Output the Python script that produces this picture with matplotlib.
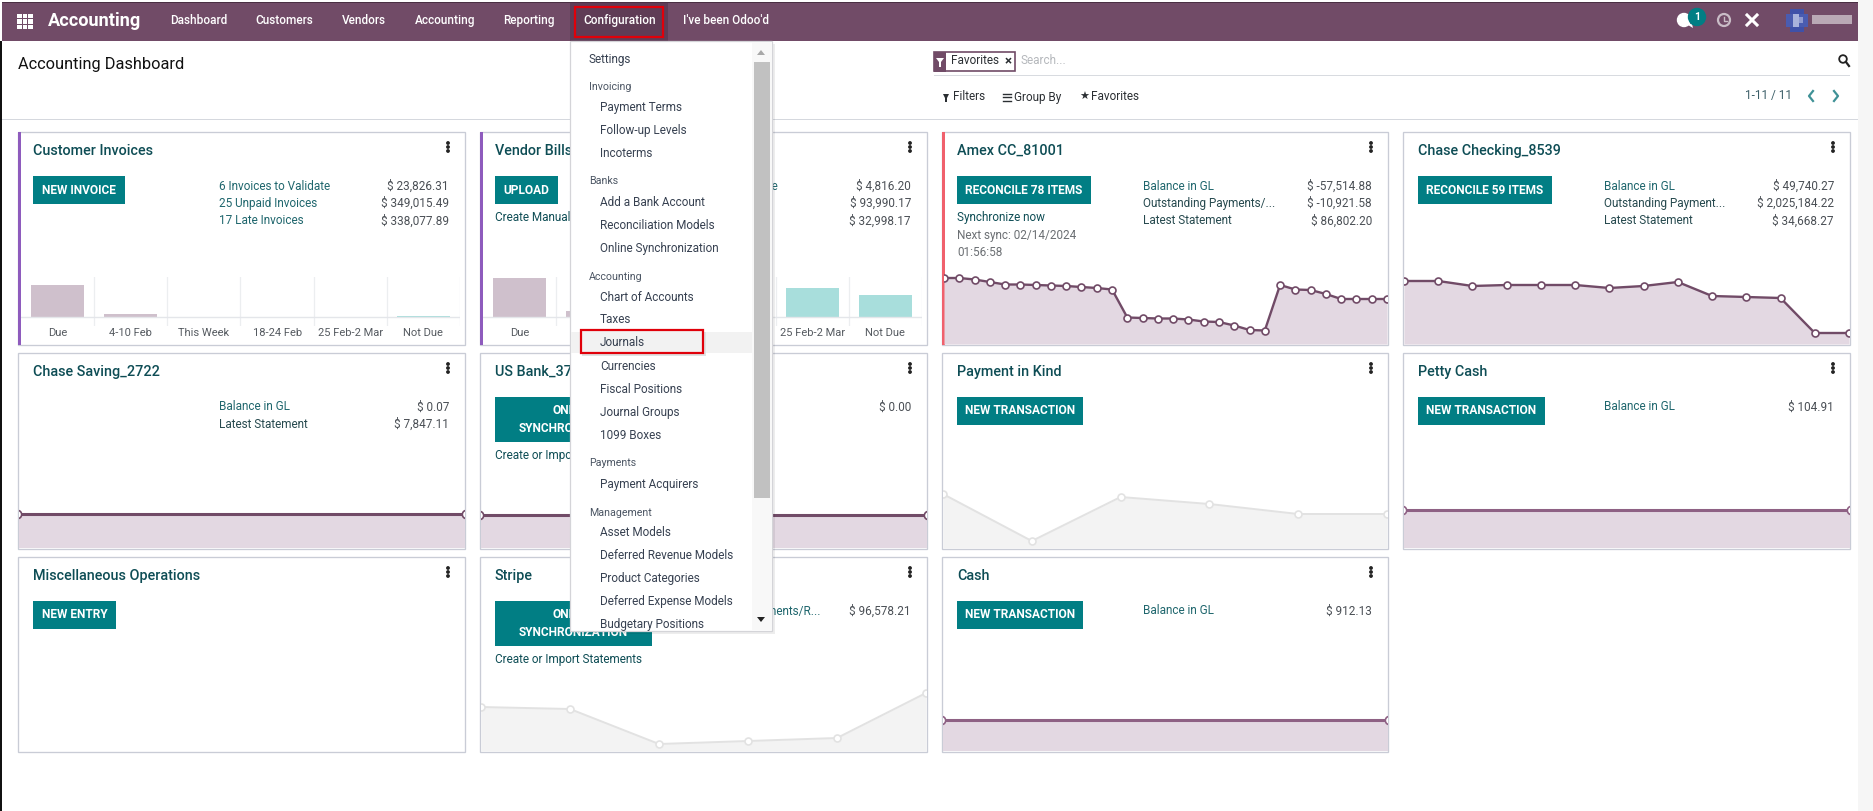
import matplotlib
matplotlib.use("Agg")
import matplotlib.pyplot as plt
from matplotlib.patches import Rectangle, Circle, Polygon

W, H = 1873, 811
plt.rcParams['font.family'] = ['Roboto', 'DejaVu Sans']

# colours
PURPLE = '#714b67'
TEAL = '#017e84'
TITLE = '#0e4d55'
LABEL1 = '#1f666d'
LABEL2 = '#26494e'
VALUE = '#4a4f55'
DARK = '#2b2f33'
BORDER = '#c9ccd6'
FILL = '#e3d8e2'
PAST = '#cfc0cc'
FUTURE = '#a8dedc'
GREY_LINE = '#e2e2e2'
GREY_FILL = '#f3f3f3'

# data
nav_items = ['Dashboard', 'Customers', 'Vendors', 'Accounting', 'Reporting', 'Configuration', "I've been Odoo'd"]
nav_x = [170, 255, 342, 415, 503, 583, 683]

bar_labels = ['Due', '4-10 Feb', 'This Week', '18-24 Feb', '25 Feb-2 Mar', 'Not Due']
customer_bars = [32, 3, 0, 0, 0, 1]
customer_future = [False, False, False, False, False, True]
vendor_bars = [39, 6, 0, 0, 29, 22]
vendor_future = [False, False, True, True, True, True]

amex_line = [66, 66, 64.5, 62, 59.5, 59.5, 59, 58.5, 58, 57, 56, 54.5, 26.5, 26, 25.5, 25.5, 24.5, 22.5,
             22, 18.5, 14, 13.5, 59, 54.5, 54, 50, 45, 45, 45, 45]
checking_line = [63, 63, 58, 59, 59, 59, 56, 58, 62, 48, 47, 46, 11, 11]
saving_line = [34, 34]
usbank_line = [33, 33]
petty_line = [38, 38]
cash_line = [31, 31]
kind_line = [54, 7, 51, 44, 34, 34]
stripe_line = [44, 42, 7, 10, 13, 58]

menu_items = [
    ('Settings', 0, 59), ('Invoicing', 0, 86), ('Payment Terms', 1, 107), ('Follow-up Levels', 1, 130),
    ('Incoterms', 1, 153), ('Banks', 0, 180), ('Add a Bank Account', 1, 202), ('Reconciliation Models', 1, 225),
    ('Online Synchronization', 1, 248), ('Accounting', 0, 276), ('Chart of Accounts', 1, 297), ('Taxes', 1, 319),
    ('Journals', 1, 342), ('Currencies', 1, 366), ('Fiscal Positions', 1, 389), ('Journal Groups', 1, 412),
    ('1099 Boxes', 1, 435), ('Payments', 0, 463), ('Payment Acquirers', 1, 484), ('Management', 0, 512),
    ('Asset Models', 1, 532), ('Deferred Revenue Models', 1, 555), ('Product Categories', 1, 578),
    ('Deferred Expense Models', 1, 601), ('Budgetary Positions', 1, 624),
]
menu_headers = ['Invoicing', 'Banks', 'Accounting', 'Payments', 'Management']

col_x = [(18, 465), (480, 927), (942, 1388), (1403, 1850)]
row_y = [(132, 345), (353, 549), (557, 752)]

# title, col, row, button text, button right edge, stats
cards = [
    ('Customer Invoices', 0, 0, 'NEW INVOICE', 125, [('6 Invoices to Validate', '$ 23,826.31', LABEL1), ('25 Unpaid Invoices', '$ 349,015.49', LABEL1), ('17 Late Invoices', '$ 338,077.89', LABEL1)]),
    ('Vendor Bills', 1, 0, 'UPLOAD', 558, [('', '$ 4,816.20', LABEL1), ('', '$ 93,990.17', LABEL1), ('', '$ 32,998.17', LABEL1)]),
    ('Amex CC_81001', 2, 0, 'RECONCILE 78 ITEMS', 1091, [('Balance in GL', '$ -57,514.88', LABEL1), ('Outstanding Payments/...', '$ -10,921.58', LABEL2), ('Latest Statement', '$ 86,802.20', LABEL2)]),
    ('Chase Checking_8539', 3, 0, 'RECONCILE 59 ITEMS', 1552, [('Balance in GL', '$ 49,740.27', LABEL1), ('Outstanding Payment...', '$ 2,025,184.22', LABEL2), ('Latest Statement', '$ 34,668.27', LABEL2)]),
    ('Chase Saving_2722', 0, 1, None, 0, [('Balance in GL', '$ 0.07', LABEL1), ('Latest Statement', '$ 7,847.11', LABEL2)]),
    ('US Bank_37', 1, 1, 'ONLINE\nSYNCHRONIZATION', 652, [('', '$ 0.00', LABEL1)]),
    ('Payment in Kind', 2, 1, 'NEW TRANSACTION', 1083, []),
    ('Petty Cash', 3, 1, 'NEW TRANSACTION', 1545, [('Balance in GL', '$ 104.91', LABEL1)]),
    ('Miscellaneous Operations', 0, 2, 'NEW ENTRY', 116, []),
    ('Stripe', 1, 2, 'ONLINE\nSYNCHRONIZATION', 652, [('Outstanding Payments/R...', '$ 96,578.21', LABEL1)]),
    ('Cash', 2, 2, 'NEW TRANSACTION', 1083, [('Balance in GL', '$ 912.13', LABEL1)]),
]

fig = plt.figure(figsize=(W / 100, H / 100), dpi=100)
fig.patch.set_facecolor('white')


def px_axes(x0, y0, x1, y1, z):
    # axes placed in screen pixels, y counted from the top
    return fig.add_axes([x0 / W, 1 - y1 / H, (x1 - x0) / W, (y1 - y0) / H], zorder=z)


bg = px_axes(0, 0, W, H, 0)
bg.set_xlim(0, W)
bg.set_ylim(H, 0)
bg.axis('off')

top = px_axes(0, 0, W, H, 5)
top.set_xlim(0, W)
top.set_ylim(H, 0)
top.axis('off')


def rect(ax, x0, y0, x1, y1, color, z=1, **kw):
    ax.add_patch(Rectangle((x0, y0), x1 - x0, y1 - y0, facecolor=color, edgecolor='none', zorder=z, **kw))


def txt(ax, x, y, s, size=8.5, color=DARK, ha='left', z=3, **kw):
    ax.text(x, y + 1, s, fontsize=size, color=color, ha=ha, va='center', zorder=z, **kw)


# page frame
rect(bg, 1858, 0, W, H, '#f6f6f6')
rect(bg, 0, 41, 2.5, H, '#111111')
rect(bg, 2, 2, 1858, 41, PURPLE)
rect(bg, 2, 2, 1858, 3.2, '#4a2f43')
rect(bg, 2, 118.5, 1858, 120, '#d5d8de')
rect(bg, 934, 74.5, 1850, 76, '#d8dbe0')

# navbar
for gx in (0, 5.5, 11):
    for gy in (0, 5.5, 11):
        rect(bg, 17.5 + gx, 13.5 + gy, 22 + gx, 18 + gy, 'white')
txt(bg, 48, 20, 'Accounting', size=13.1, color='white', weight='bold')
rect(bg, 570, 3, 668, 41, '#5f3c56')
for item, x in zip(nav_items, nav_x):
    txt(bg, x, 19.5, item, size=8.5, color='white', weight='medium')
top.add_patch(Rectangle((575, 6.5), 88, 30, facecolor='none', edgecolor='#e0000a', lw=1.6, zorder=4))

# systray
top.add_patch(Circle((1684, 20), 6.5, color='white', zorder=3))
top.add_patch(Polygon([(1680, 24), (1692, 24), (1693, 28), (1688, 25)], facecolor='white', zorder=3))
top.add_patch(Circle((1697, 17), 8.5, color=TEAL, zorder=4))
txt(top, 1697, 15.5, '1', size=7.5, color='white', ha='center', z=5, weight='bold')
top.add_patch(Circle((1724, 20), 6, facecolor='none', edgecolor='#c9bcc6', lw=1.6, zorder=3))
top.plot([1724, 1724, 1727], [16.5, 20.5, 20.5], color='#c9bcc6', lw=1, zorder=3)
top.plot([1747, 1757], [15, 25], color='white', lw=2.2, zorder=3)
top.plot([1747, 1757], [25, 15], color='white', lw=2.2, zorder=3)
rect(top, 1790, 9, 1804, 32, '#3f51a8', z=3)
rect(top, 1786, 14, 1808, 27, '#4a5cb0', z=3)
rect(top, 1793, 14, 1799, 27, '#a9b3dc', z=4)
rect(top, 1799, 17, 1803, 23, '#8f9ad0', z=4)
rect(top, 1812, 15, 1852, 24, '#b9a9b5', z=3)

# control panel
txt(bg, 18, 63, 'Accounting Dashboard', size=11.8, color='#111111')
bg.add_patch(Rectangle((934.5, 52), 80.5, 19, facecolor='white', edgecolor=PURPLE, lw=1.2, zorder=2))
rect(bg, 934, 52, 946, 71.5, PURPLE, z=3)
bg.add_patch(Polygon([(936, 58), (944, 58), (941, 62), (941, 67), (939, 67), (939, 62)], facecolor='white', zorder=4))
txt(bg, 951, 60, 'Favorites', color=DARK)
txt(bg, 1008.5, 61, '\u00d7', size=9.5, color=DARK, ha='center', weight='bold')
txt(bg, 1021, 60, 'Search...', color='#b5b8bc')
bg.add_patch(Circle((1843, 59), 3.8, facecolor='none', edgecolor='#222222', lw=1.3, zorder=3))
bg.plot([1846, 1849], [62, 66], color='#222222', lw=1.6, zorder=3)

bg.add_patch(Polygon([(943, 94), (949, 94), (947, 98), (947, 102), (945, 102), (945, 98)], facecolor=DARK, zorder=3))
txt(bg, 953, 96, 'Filters', color=DARK)
for ly in (93.5, 97, 100.5):
    bg.plot([1003, 1011], [ly, ly], color=DARK, lw=1, zorder=3)
txt(bg, 1014, 96, 'Group By', color=DARK)
txt(bg, 1084, 96, '\u2605', size=8, color=DARK, ha='center', family=['DejaVu Sans'])
txt(bg, 1091, 96, 'Favorites', color=DARK)
txt(bg, 1745, 95, '1-11 / 11', color='#3c5f68')
bg.plot([1813, 1809, 1813], [91, 96, 101], color='#3f9196', lw=1.6, zorder=3)
bg.plot([1834, 1838, 1834], [91, 96, 101], color='#3f9196', lw=1.6, zorder=3)

# cards
for title, c, r, button, btn_right, stats in cards:
    x0, x1 = col_x[c]
    y0, y1 = row_y[r]
    bg.add_patch(Rectangle((x0, y0), x1 - x0, y1 - y0, facecolor='white', edgecolor=BORDER, lw=0.95, zorder=1))
    txt(bg, x0 + 15, y0 + 18, title, size=10.4, color=TITLE, weight='medium')
    for dy in (11, 15, 19):
        bg.add_patch(Circle((x1 - 17, y0 + dy), 1.2, color='#222222', zorder=3))
    if button:
        by0 = y0 + 44
        by1 = by0 + (45 if '\n' in button else 28)
        rect(bg, x0 + 15, by0, btn_right, by1, TEAL, z=2)
        txt(bg, (x0 + 15 + btn_right) / 2, (by0 + by1) / 2 - 1, button, size=8.6, color='white', ha='center',
            weight='bold', linespacing=1.55)
    for k, (label, value, color) in enumerate(stats):
        sy = y0 + 53 + k * 17.5
        if label:
            txt(bg, x0 + 201, sy, label, color=color)
        txt(bg, x1 - 16, sy, value, color=VALUE, ha='right')

# left accents of the first row
rect(bg, 18, 132, 21, 345, '#8e5bbd', z=2)
rect(bg, 480, 132, 483, 345, '#8e5bbd', z=2)
rect(bg, 942, 132, 945, 345, '#f0616d', z=2)

# only the tail of this label shows beside the menu
txt(bg, 778, 185, 'to Validate', color=LABEL1, ha='right')
txt(bg, 495, 216, 'Create Manually', color=TITLE)
txt(bg, 957, 216, 'Synchronize now', color=TITLE)
txt(bg, 957, 234, 'Next sync: 02/14/2024', color='#6b6f73')
txt(bg, 957, 252, '01:56:58', color='#6b6f73')
txt(bg, 495, 455, 'Create or Import Statements', color=TITLE)
txt(bg, 495, 659, 'Create or Import Statements', color=TITLE)


def bar_chart(x0, x1, values, future):
    ax = px_axes(x0, 277, x1, 326, 2)
    ax.patch.set_alpha(0)
    ax.set_xlim(-0.5, 5.5)
    ax.set_ylim(-9, 40)
    colors = [FUTURE if f else PAST for f in future]
    ax.bar(range(len(values)), values, width=0.72, color=colors, zorder=2)
    ax.axhline(0, color='#e4e6ea', lw=1, zorder=3)
    for k in range(len(values)):
        ax.axvline(k + 0.5, color='#eceef0', lw=0.9, zorder=1)
    ax.set_xticks([])
    ax.set_yticks([])
    for s in ax.spines.values():
        s.set_visible(False)
    for k, lab in enumerate(bar_labels):
        ax.text(k, -16, lab, ha='center', va='center', fontsize=8, color='#555a60', clip_on=False)


bar_chart(21, 460, customer_bars, customer_future)
bar_chart(483, 922, vendor_bars, vendor_future)


def line_chart(x0, x1, y_top, y_bottom, values, color=PURPLE, fill=FILL, lw=1.7, ms=5, pad=0):
    ax = px_axes(x0, y_top, x1, y_bottom, 2)
    ax.patch.set_alpha(0)
    # pad pushes the end markers past the clip edge
    step = (len(values) - 1) / (x1 - x0)
    ax.set_xlim(pad * step, (len(values) - 1) - pad * step)
    ax.set_ylim(0, y_bottom - y_top)
    xs = list(range(len(values)))
    ax.fill_between(xs, values, 0, color=fill, lw=0)
    ax.plot(xs, values, color=color, lw=lw, marker='o', ms=ms, mfc='white', mec=color, mew=1.2)
    ax.set_xticks([])
    ax.set_yticks([])
    for s in ax.spines.values():
        s.set_visible(False)


line_chart(944, 1387, 272, 344, amex_line)
line_chart(1404, 1849, 272, 344, checking_line)
line_chart(19, 464, 480, 548, saving_line, lw=2.2, ms=6, pad=2)
line_chart(481, 926, 480, 548, usbank_line, lw=2.2, ms=6, pad=2)
line_chart(1404, 1849, 472, 548, petty_line, color='#8e6184', lw=2.2, ms=6, pad=2)
line_chart(943, 1387, 683, 751, cash_line, color='#8e6184', lw=2.2, ms=6, pad=2)
line_chart(943, 1387, 472, 548, kind_line, color=GREY_LINE, fill=GREY_FILL, lw=1.4)
line_chart(481, 926, 683, 751, stripe_line, color=GREY_LINE, fill=GREY_FILL, lw=1.4)

# dropdown menu on top of everything
rect(top, 573, 44, 775, 634, '#00000012', z=0)
top.add_patch(Rectangle((570, 41), 202, 590, facecolor='white', edgecolor='#d4d4d8', lw=0.9, zorder=1))
rect(top, 752, 42, 772, 630, '#f8f8f8', z=2)
rect(top, 754, 62, 770, 498, '#c1c1c1', z=3)
top.add_patch(Polygon([(757, 55), (765, 55), (761, 50)], facecolor='#a8a8a8', zorder=3))
top.add_patch(Polygon([(757, 617), (765, 617), (761, 622)], facecolor='#222222', zorder=3))
rect(top, 571, 332, 752, 353, '#f2f2f2', z=2)
rect(top, 582, 332, 706, 356, '#dfe3e3', z=2)
top.add_patch(Rectangle((581, 330), 122, 23, facecolor='#f2f2f2', edgecolor='#e0000a', lw=1.6, zorder=3))
for name, level, y in menu_items:
    x = 600 if level else 589
    if name in menu_headers:
        txt(top, x, y - 0.5, name, size=7.7, color='#4b5563', z=4)
    else:
        txt(top, x, y - 0.5, name, color='#374151', z=4)

fig.savefig('out.png', dpi=100)
